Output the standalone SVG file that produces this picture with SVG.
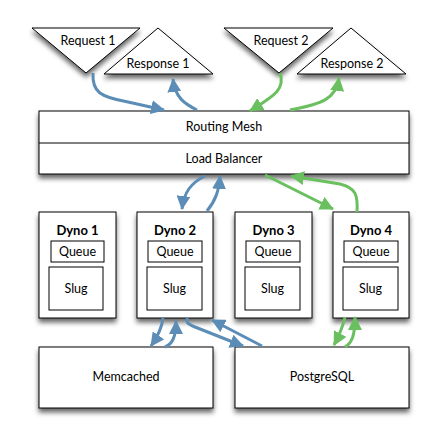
<svg xmlns="http://www.w3.org/2000/svg" width="440" height="443" viewBox="0 0 440 443">
<style>
.box{fill:#fff;stroke:#000;stroke-width:1;}
.sh{filter:url(#shadow);}
text{font-family:"Lato","Open Sans","Liberation Sans",sans-serif;font-size:12.5px;fill:#000;text-anchor:middle;}
.t{font-weight:bold;font-size:13px;}
.blue{fill:none;stroke:#5b8db6;stroke-width:3;marker-end:url(#ab);}
.green{fill:none;stroke:#6abf5f;stroke-width:3;marker-end:url(#ag);}
</style>
<defs>
<filter id="shadow" x="-20%" y="-20%" width="140%" height="150%">
<feDropShadow dx="0" dy="4" stdDeviation="2.5" flood-color="#000" flood-opacity="0.6"/>
</filter>
<marker id="ab" markerUnits="userSpaceOnUse" markerWidth="15" markerHeight="14" refX="13" refY="7" orient="auto">
<path d="M0,0 L14,7 L0,14 Z" fill="#5b8db6"/>
</marker>
<marker id="ag" markerUnits="userSpaceOnUse" markerWidth="15" markerHeight="14" refX="13" refY="7" orient="auto">
<path d="M0,0 L14,7 L0,14 Z" fill="#6abf5f"/>
</marker>
</defs>
<rect width="440" height="443" fill="#fff"/>

<g id="request1"><polygon class="box sh" points="32,28 140,28 86,73"/><text x="88" y="45">Request 1</text></g>
<g id="response1"><polygon class="box sh" points="158,28 213,74 104,74"/><text x="158" y="68">Response 1</text></g>
<g id="request2"><polygon class="box sh" points="224,28 333,28 279,73"/><text x="281" y="45">Request 2</text></g>
<g id="response2"><polygon class="box sh" points="351,28 406,74 297,74"/><text x="352" y="68">Response 2</text></g>

<g id="mesh">
<rect class="box sh" x="39" y="111" width="370" height="63"/>
<line x1="39" y1="143" x2="409" y2="143" stroke="#000"/>
<text x="224" y="131">Routing Mesh</text>
<text x="224" y="163">Load Balancer</text>
</g>

<g id="dyno1"><rect class="box sh" x="39" y="212" width="77" height="106"/><text class="t" x="77.5" y="235">Dyno 1</text><rect class="box" x="51" y="241" width="53" height="21"/><text x="77.5" y="256">Queue</text><rect class="box" x="49" y="267" width="54" height="43"/><text x="76" y="293">Slug</text></g>
<g id="dyno2"><rect class="box sh" x="137" y="212" width="76" height="106"/><text class="t" x="175" y="235">Dyno 2</text><rect class="box" x="148" y="241" width="54" height="21"/><text x="175" y="256">Queue</text><rect class="box" x="147" y="267" width="55" height="43"/><text x="174.5" y="293">Slug</text></g>
<g id="dyno3"><rect class="box sh" x="235" y="212" width="77" height="106"/><text class="t" x="273.5" y="235">Dyno 3</text><rect class="box" x="246" y="241" width="54" height="21"/><text x="273" y="256">Queue</text><rect class="box" x="245" y="267" width="55" height="43"/><text x="272.5" y="293">Slug</text></g>
<g id="dyno4"><rect class="box sh" x="333" y="212" width="76" height="106"/><text class="t" x="371" y="235">Dyno 4</text><rect class="box" x="344" y="241" width="54" height="21"/><text x="371" y="256">Queue</text><rect class="box" x="343" y="267" width="55" height="43"/><text x="370.5" y="293">Slug</text></g>

<g id="memcached"><rect class="box sh" x="39" y="347" width="174" height="61"/><text x="126" y="381">Memcached</text></g>
<g id="postgresql"><rect class="box sh" x="235" y="347" width="174" height="61"/><text x="322" y="381">PostgreSQL</text></g>

<g id="connectors">
<path class="blue" d="M93,73 C92,92 100,97 128,102 L164,110"/>
<path class="blue" d="M197,110 C185,104 175,98 173,79"/>
<path class="green" d="M280,73 C286,90 272,97 250,111"/>
<path class="green" d="M290,110 C322,104 336,99 339,78"/>
<path class="blue" d="M205,176 C191,183 184,192 182,209"/>
<path class="blue" d="M207,211 C216,200 219,190 220,176"/>
<path class="green" d="M265,175 L333,209"/>
<path class="green" d="M357,212 C358,195 356,188 340,184 L291,176"/>
<path class="blue" d="M163,318 C162,328 158,336 151,346"/>
<path class="blue" d="M165,347 C172,344 176,338 176,321"/>
<path class="blue" d="M188,318 C185,322 188,324 195,327 L243,346"/>
<path class="blue" d="M262,346 L212,320"/>
<path class="green" d="M345,317 C343,326 340,334 334,345"/>
<path class="green" d="M345,347 C352,343 355,335 355,317"/>
</g>
</svg>
